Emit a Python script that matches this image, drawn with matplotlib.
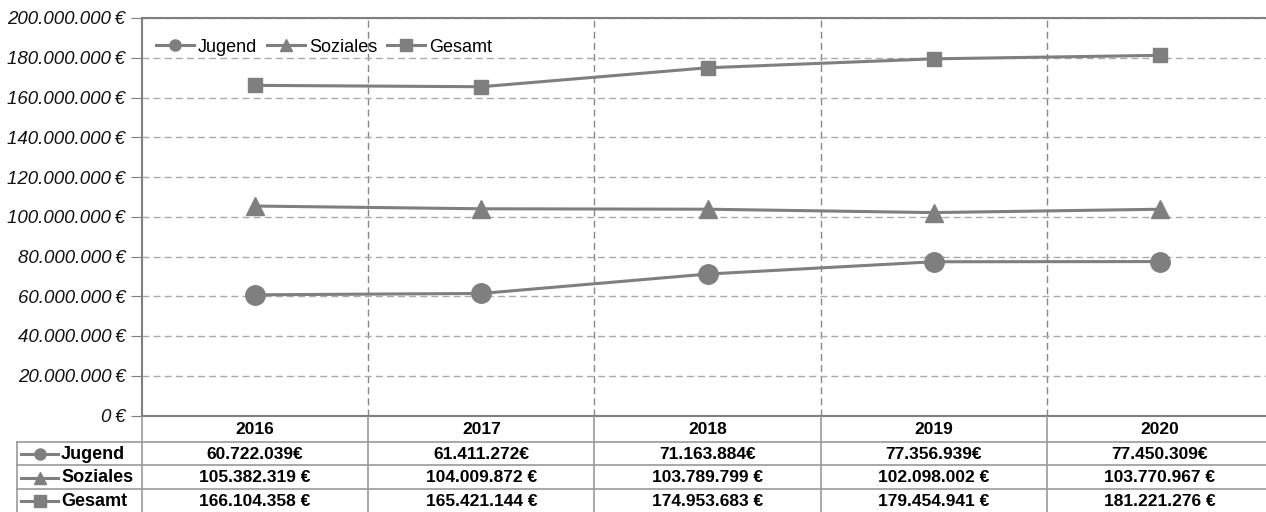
import matplotlib.pyplot as plt
from matplotlib.ticker import FuncFormatter
from matplotlib.lines import Line2D

plt.rcParams['font.family'] = ['Liberation Sans', 'DejaVu Sans']

# Data
years = ['2016', '2017', '2018', '2019', '2020']
jugend = [60722039, 61411272, 71163884, 77356939, 77450309]
soziales = [105382319, 104009872, 103789799, 102098002, 103770967]
gesamt = [166104358, 165421144, 174953683, 179454941, 181221276]
series = [('Jugend', jugend, 'o', 14, ''), ('Soziales', soziales, '^', 13, ' '),
          ('Gesamt', gesamt, 's', 10, ' ')]

grey = '#7f7f7f'
W, H = 1266, 512


def eur(v, sep='\u2009'):
    s = f'{int(round(v)):,}'.replace(',', '.')
    return s + sep + '€'


fig = plt.figure(figsize=(W / 100, H / 100), dpi=100)
ax = fig.add_axes([142 / W, 1 - 415.5 / H, 1131 / W, (415.5 - 18) / H])

x = list(range(len(years)))
for name, vals, m, ms, _ in series:
    ax.plot(x, vals, color=grey, lw=2.2, marker=m, ms=ms, mec=grey, mfc=grey, label=name)

ax.set_xlim(-0.5, len(years) - 0.5)
ax.set_ylim(0, 200000000)
ax.set_yticks(range(0, 200000001, 20000000))
ax.yaxis.set_major_formatter(FuncFormatter(lambda v, p: eur(v) if v else '0\u2009€'))
ax.tick_params(axis='y', labelsize=13.5, length=8, color=grey, pad=4, labelcolor='#111111')
for t in ax.get_yticklabels():
    t.set_fontstyle('italic')
ax.set_xticks([i + 0.5 for i in range(len(years) - 1)])
ax.tick_params(axis='x', length=0, labelbottom=False)
ax.grid(axis='y', color='#aaaaaa', ls=(0, (5, 3)), lw=1)
ax.grid(axis='x', color='#888888', ls=(0, (5, 3)), lw=1)
for s in ['left', 'top', 'bottom']:
    ax.spines[s].set_color(grey)
    ax.spines[s].set_linewidth(1.5)
ax.spines['right'].set_visible(False)

leg_h = [Line2D([], [], color=grey, lw=2.2, marker=m, ms=8, mfc=grey, mec=grey) for _, _, m, _, _ in series]
ax.legend(leg_h, [s[0] for s in series], loc='upper left', bbox_to_anchor=(0.003, 0.975),
          frameon=False, fontsize=13, ncol=3, handlelength=2.1, handletextpad=0.22,
          columnspacing=0.55, borderaxespad=0.2)

# data table beneath the axes
tb = fig.add_axes([0, 0, 1, (512 - 415.5) / H])
tb.set_xlim(0, W)
tb.set_ylim(512, 415.5)
tb.axis('off')
col_w = 1131 / len(years)
x0 = 142
row_y = [415.5, 441.5, 465, 488.5, 512]
line_kw = dict(color='#999999', lw=1.2)

for i in range(len(years)):
    tb.plot([x0 + i * col_w] * 2, [415.5, 512], **line_kw)
tb.plot([17, 17], [441.5, 512], **line_kw)
for yy in row_y[1:4]:
    tb.plot([17, W], [yy, yy], **line_kw)

for i, yr in enumerate(years):
    tb.text(x0 + (i + 0.5) * col_w, (row_y[0] + row_y[1]) / 2 + 1, yr, ha='center', va='center',
            fontsize=12.5, fontweight='bold')

for r, (name, vals, m, ms, sep) in enumerate(series):
    yc = (row_y[r + 1] + row_y[r + 2]) / 2 + 1
    tb.plot([21, 58], [yc, yc], color=grey, lw=2.2)
    tb.plot([39.5], [yc], marker=m, ms=8, color=grey)
    tb.text(61, yc, name, ha='left', va='center', fontsize=13, fontweight='bold')
    for i, v in enumerate(vals):
        tb.text(x0 + (i + 0.5) * col_w, yc, eur(v, sep), ha='center', va='center',
                fontsize=12.5, fontweight='bold')

fig.savefig('out.png', dpi=100)
